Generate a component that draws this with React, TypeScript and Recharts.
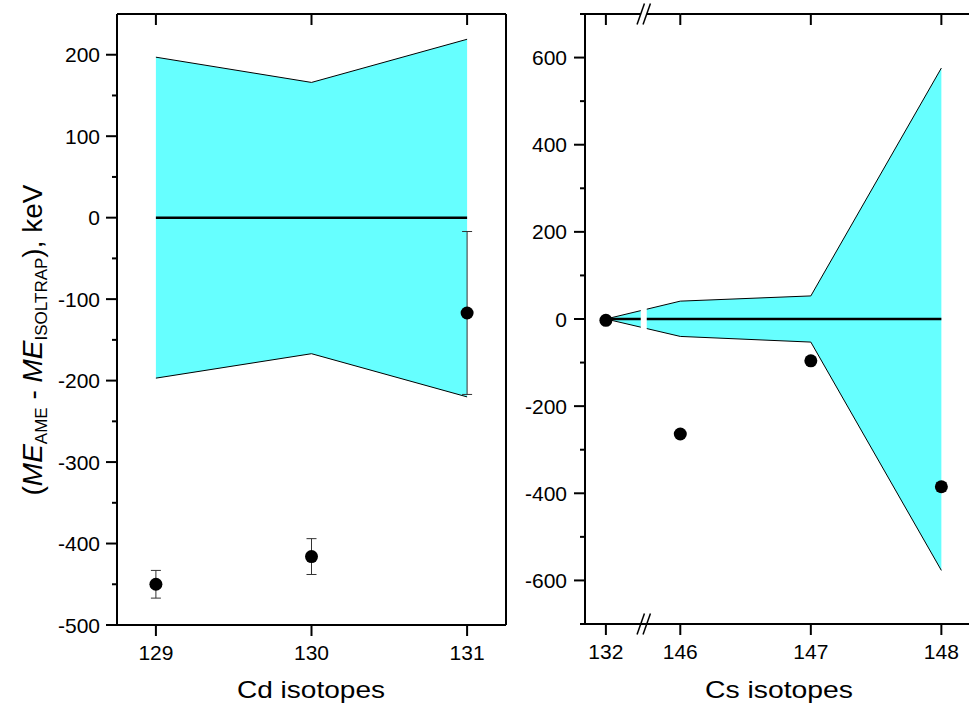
import React from 'react';
import {
  ComposedChart, Area, Line, Scatter, ErrorBar, XAxis, YAxis, ReferenceLine, ReferenceArea
} from 'recharts';

const FONT = '"Liberation Sans", Arial, Helvetica, sans-serif';
const BAND = '#66ffff';

// Cd panel
const cdIsotopes = [129, 130, 131];
const cdBandLow = [-197, -167, -220];
const cdBandHigh = [197, 166, 219];
const cdDiff = [-450, -416, -117];
const cdErr = [17, 22, 100];
const cdYTicks = [-500, -450, -400, -350, -300, -250, -200, -150, -100, -50, 0, 50, 100, 150, 200];
const cdXDomain = [128.75, 131.25];
const cdYDomain = [-500, 250];

// Cs panel (broken x axis between 132 and 146)
const csIsotopes = [132, 146, 147, 148];
const csBandLow = [0, -40, -53, -577];
const csBandHigh = [0, 41, 53, 576];
const csDiff = [-3, -264, -96, -385];
const csErr = [4, 4, 5, 10];
const csYTicks = [-700, -600, -500, -400, -300, -200, -100, 0, 100, 200, 300, 400, 500, 600, 700];
const csXDomain = [145.27, 148.25];
const csYDomain = [-700, 700];

const BREAK_SHIFT = 13.43; // 132 is drawn just left of the break
const csPos = (iso: number) => (iso < 140 ? iso + BREAK_SHIFT : iso);
const BREAK_X = 145.72;

const cdData = cdIsotopes.map((x, i) => ({ x, band: [cdBandLow[i], cdBandHigh[i]], zero: 0 }));
const cdPoints = cdIsotopes.map((x, i) => ({ x, y: cdDiff[i], err: cdErr[i] }));
const csTickPos = csIsotopes.map(csPos);
const csData = csIsotopes.map((iso, i) => ({ x: csPos(iso), band: [csBandLow[i], csBandHigh[i]], zero: 0 }));
const csPoints = csIsotopes.map((iso, i) => ({ x: csPos(iso), y: csDiff[i], err: csErr[i] }));

const axisLine = { stroke: '#000', strokeWidth: 2 };

// frameWidth: on the right axis, the top tick draws the top frame across the plot
const yTick = (step: number, labelGap: number | null, top?: number, frameWidth?: number) => (props: any) => {
  const { x, y, payload } = props;
  if (top !== undefined && frameWidth && payload.value === top) {
    return <line x1={x} y1={y} x2={x - frameWidth} y2={y} stroke="#000" strokeWidth={2} />;
  }
  const major = Math.abs(payload.value % step) < 1e-6;
  return (
    <g>
      <line x1={x} y1={y} x2={x - (major ? 11 : 5)} y2={y} stroke="#000" strokeWidth={2} />
      {major && labelGap !== null && (
        <text x={x - labelGap} y={y + 7.5} textAnchor="end" fontFamily={FONT} fontSize={21} fill="#000">
          {payload.value}
        </text>
      )}
    </g>
  );
};

const xTick = (fmt: (v: number) => string) => (props: any) => {
  const { x, y, payload } = props;
  return (
    <g>
      <line x1={x} y1={y} x2={x} y2={y + 11} stroke="#000" strokeWidth={2} />
      <text x={x} y={y + 35} textAnchor="middle" fontFamily={FONT} fontSize={21} fill="#000">
        {fmt(payload.value)}
      </text>
    </g>
  );
};

// inward tick hanging from the top frame, drawn by a vertical reference line
const TopTick = (p: any) => {
  const top = Math.min(p.y1, p.y2);
  return <line x1={p.x1} y1={top} x2={p.x1} y2={top + 11} stroke="#000" strokeWidth={2} />;
};

// top edge of a reference area spanning the full plot height
const TopEdge = (p: any) => (
  <line x1={p.x} y1={p.y} x2={p.x + p.width} y2={p.y} stroke="#000" strokeWidth={2} />
);

const XTitle = ({ text, cx }: any) => (
  <text x={cx} y={698} textAnchor="middle" fontFamily={FONT} fontSize={24} fill="#000"
    textLength={148} lengthAdjust="spacingAndGlyphs">
    {text}
  </text>
);

const YTitle = () => (
  <text transform="translate(42,340) rotate(-90)" textAnchor="middle" fontFamily={FONT} fontSize={28} fill="#000">
    <tspan>(</tspan>
    <tspan fontStyle="italic">ME</tspan>
    <tspan fontSize={17} dy={5}>AME</tspan>
    <tspan dy={-5}>{' - '}</tspan>
    <tspan fontStyle="italic">ME</tspan>
    <tspan fontSize={17} dy={5}>ISOLTRAP</tspan>
    <tspan dy={-5}>{'), keV'}</tspan>
  </text>
);

const Dot = (props: any) => <circle cx={props.cx} cy={props.cy} r={6.5} fill="#000" />;

const BreakMark = (p: any) => {
  const x = p.x1;
  const top = Math.min(p.y1, p.y2);
  const bot = Math.max(p.y1, p.y2);
  const slash = (cx: number, cy: number) => (
    <line x1={cx - 3.7} y1={cy + 10.5} x2={cx + 3.7} y2={cy - 10.5} stroke="#000" strokeWidth={1.5} />
  );
  return (
    <g>
      <rect x={x - 3} y={top - 2} width={6} height={bot - top + 4} fill="#fff" />
      {slash(x - 3, top)}
      {slash(x + 3, top)}
      {slash(x - 3, bot)}
      {slash(x + 3, bot)}
    </g>
  );
};

const CdPanel = () => (
  <ComposedChart width={520} height={713} data={cdData} margin={{ top: 14, right: 0, bottom: 0, left: 0 }}>
    <XAxis xAxisId="b" dataKey="x" type="number" domain={cdXDomain}
      ticks={cdIsotopes} interval={0} height={88} tickSize={0} tickMargin={0} tickLine={false}
      axisLine={axisLine} tick={xTick(v => String(v))} label={<XTitle text="Cd isotopes" cx={311} />} />
    <YAxis yAxisId="l" type="number" domain={cdYDomain} ticks={cdYTicks} interval={0}
      width={117} tickSize={0} tickMargin={0} tickLine={false} axisLine={axisLine}
      tick={yTick(100, 17)} label={<YTitle />} />
    <YAxis yAxisId="r" orientation="right" type="number" domain={cdYDomain} ticks={[...cdYTicks, cdYDomain[1]]}
      interval={0} width={14} tickSize={0} tickMargin={0} tickLine={false} axisLine={axisLine}
      tick={yTick(100, null, cdYDomain[1], 389)} />
    <Area xAxisId="b" yAxisId="l" dataKey="band" type="linear" fill={BAND} fillOpacity={1}
      stroke="#000" strokeWidth={1} isAnimationActive={false} />
    <Line xAxisId="b" yAxisId="l" dataKey="zero" type="linear" stroke="#000" strokeWidth={2.5}
      dot={false} isAnimationActive={false} />
    <Scatter xAxisId="b" yAxisId="l" data={cdPoints} dataKey="y" shape={Dot} isAnimationActive={false}>
      <ErrorBar dataKey="err" direction="y" width={5} stroke="#333" strokeWidth={1} />
    </Scatter>
    <ReferenceArea xAxisId="b" yAxisId="l" x1={cdIsotopes[0]} shape={TopEdge} ifOverflow="visible" />
    <ReferenceArea xAxisId="b" yAxisId="l" x2={cdIsotopes[0]} shape={TopEdge} ifOverflow="visible" />
    {cdIsotopes.map(x => (
      <ReferenceLine key={x} xAxisId="b" yAxisId="l" x={x} shape={TopTick} />
    ))}
  </ComposedChart>
);

const csLabel = (v: number) => {
  const i = csTickPos.findIndex(p => Math.abs(p - v) < 1e-6);
  return i >= 0 ? String(csIsotopes[i]) : '';
};

const CsPanel = () => (
  <ComposedChart width={488} height={713} data={csData} margin={{ top: 14, right: 0, bottom: 0, left: 0 }}>
    <XAxis xAxisId="b" dataKey="x" type="number" domain={csXDomain}
      ticks={csTickPos} interval={0} height={89} tickSize={0} tickMargin={0} tickLine={false}
      axisLine={axisLine} tick={xTick(csLabel)} label={<XTitle text="Cs isotopes" cx={279} />} />
    <YAxis yAxisId="l" type="number" domain={csYDomain} ticks={csYTicks} interval={0}
      width={85} tickSize={0} tickMargin={0} tickLine={false} axisLine={axisLine}
      tick={yTick(200, 18)} />
    <YAxis yAxisId="r" orientation="right" type="number" domain={csYDomain} ticks={csYTicks}
      interval={0} width={14} tickSize={0} tickMargin={0} tickLine={false} axisLine={axisLine}
      tick={yTick(200, null, csYDomain[1], 389)} />
    <Area xAxisId="b" yAxisId="l" dataKey="band" type="linear" fill={BAND} fillOpacity={1}
      stroke="#000" strokeWidth={1} isAnimationActive={false} />
    <Line xAxisId="b" yAxisId="l" dataKey="zero" type="linear" stroke="#000" strokeWidth={2.5}
      dot={false} isAnimationActive={false} />
    <Scatter xAxisId="b" yAxisId="l" data={csPoints} dataKey="y" shape={Dot} isAnimationActive={false}>
      <ErrorBar dataKey="err" direction="y" width={5} stroke="#333" strokeWidth={1} />
    </Scatter>
    <ReferenceArea xAxisId="b" yAxisId="l" x1={csTickPos[1]} shape={TopEdge} ifOverflow="visible" />
    <ReferenceArea xAxisId="b" yAxisId="l" x2={csTickPos[1]} shape={TopEdge} ifOverflow="visible" />
    {csTickPos.map(x => (
      <ReferenceLine key={x} xAxisId="b" yAxisId="l" x={x} shape={TopTick} />
    ))}
    <ReferenceLine xAxisId="b" yAxisId="l" x={BREAK_X} shape={BreakMark} />
  </ComposedChart>
);

export default function App() {
  return (
    <div style={{ position: 'absolute', left: 0, top: 0, width: 969, height: 713, overflow: 'hidden', background: '#fff' }}>
      <div style={{ position: 'absolute', left: 0, top: 0 }}>
        <CdPanel />
      </div>
      <div style={{ position: 'absolute', left: 500, top: 0 }}>
        <CsPanel />
      </div>
    </div>
  );
}
